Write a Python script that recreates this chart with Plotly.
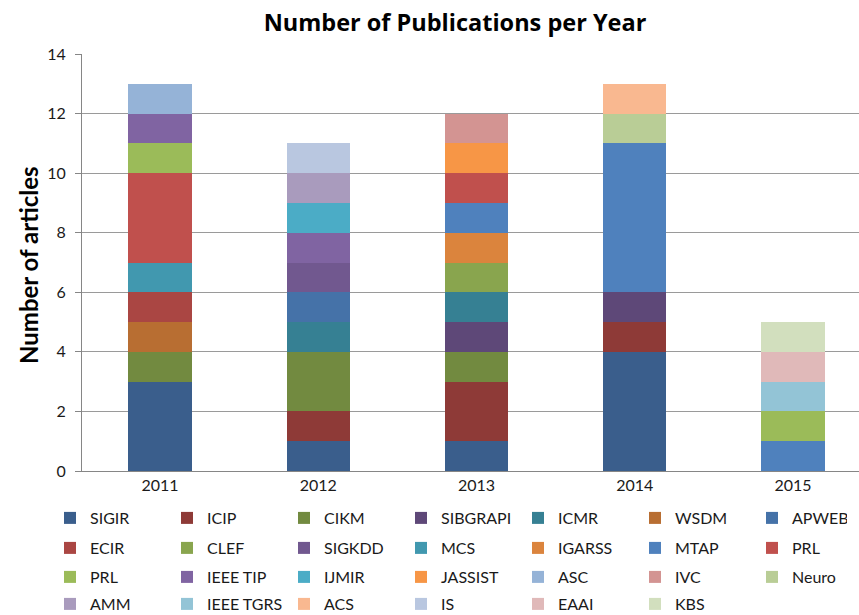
import plotly.graph_objects as go

years = ["2011", "2012", "2013", "2014", "2015"]

venues = ["SIGIR", "ICIP", "CIKM", "SIBGRAPI", "ICMR", "WSDM", "APWEB",
          "ECIR", "CLEF", "SIGKDD", "MCS", "IGARSS", "MTAP", "PRL",
          "PRL", "IEEE TIP", "IJMIR", "JASSIST", "ASC", "IVC", "Neuro",
          "AMM", "IEEE TGRS", "ACS", "IS", "EAAI", "KBS"]

SIGIR = [3, 1, 1, 4, 0]
ICIP = [0, 1, 2, 1, 0]
CIKM = [1, 2, 1, 0, 0]
SIBGRAPI = [0, 0, 1, 1, 0]
ICMR = [0, 1, 1, 0, 0]
WSDM = [1, 0, 0, 0, 0]
APWEB = [0, 1, 0, 0, 0]
ECIR = [1, 0, 0, 0, 0]
CLEF = [0, 0, 1, 0, 0]
SIGKDD = [0, 1, 0, 0, 0]
MCS = [1, 0, 0, 0, 0]
IGARSS = [0, 0, 1, 0, 0]
MTAP = [0, 0, 1, 5, 1]
PRL_a = [3, 0, 1, 0, 0]
PRL_b = [1, 0, 0, 0, 1]
IEEE_TIP = [1, 1, 0, 0, 0]
IJMIR = [0, 1, 0, 0, 0]
JASSIST = [0, 0, 1, 0, 0]
ASC = [1, 0, 0, 0, 0]
IVC = [0, 0, 1, 0, 0]
Neuro = [0, 0, 0, 1, 0]
AMM = [0, 1, 0, 0, 0]
IEEE_TGRS = [0, 0, 0, 0, 1]
ACS = [0, 0, 0, 1, 0]
IS = [0, 1, 0, 0, 0]
EAAI = [0, 0, 0, 0, 1]
KBS = [0, 0, 0, 0, 1]

series = [SIGIR, ICIP, CIKM, SIBGRAPI, ICMR, WSDM, APWEB,
          ECIR, CLEF, SIGKDD, MCS, IGARSS, MTAP, PRL_a,
          PRL_b, IEEE_TIP, IJMIR, JASSIST, ASC, IVC, Neuro,
          AMM, IEEE_TGRS, ACS, IS, EAAI, KBS]

colors = ["#3A5E8C", "#8E3A37", "#728A40", "#5E4878", "#368093", "#B86E32", "#4572A8",
          "#AA4643", "#89A54E", "#71588F", "#4198AF", "#DB843D", "#4F81BD", "#C0504D",
          "#9BBB59", "#8064A2", "#4BACC6", "#F79646", "#95B3D7", "#D39492", "#B9CD96",
          "#A99BBD", "#93C4D6", "#F9B890", "#B9C7E0", "#E0B9B9", "#D2DFBE"]

W, H = 859, 615
FONT = "Lato"

fig = go.Figure()
legend_names = ["legend", "legend2", "legend3", "legend4"]
for i, (name, vals, col) in enumerate(zip(venues, series, colors)):
    last_col = (i % 7) == 6
    fig.add_trace(go.Bar(
        x=years, y=vals, name=name, marker=dict(color=col, line=dict(width=0)),
        width=0.4, legend=legend_names[i // 7],
        legendwidth=50 if last_col else 72,
    ))

row_y = [518, 548, 577, 604]
leg_common = dict(orientation="h", traceorder="normal", xref="paper", yref="paper",
                  xanchor="left", yanchor="middle", entrywidth=72, entrywidthmode="pixels",
                  itemwidth=30, font=dict(family=FONT, size=16, color="#1a1a1a"),
                  bgcolor="rgba(0,0,0,0)")
legends = {}
for k, ln in enumerate(legend_names):
    legends[ln] = dict(leg_common, x=50 / W, y=(H - row_y[k]) / H)

fig.update_layout(
    width=W, height=H, barmode="stack",
    margin=dict(l=0, r=0, t=0, b=0, autoexpand=False),
    paper_bgcolor="white", plot_bgcolor="white",
    font=dict(family=FONT, size=16, color="#1a1a1a"),
    title=dict(text="<b>Number of Publications per Year</b>", x=455 / W, xref="paper",
               xanchor="center", y=1 - 23 / H, yref="container", yanchor="middle",
               font=dict(family="Open Sans", size=23.5, color="black")),
    xaxis=dict(type="category", domain=[82 / W, 1], range=[-0.493, 4.417],
               showline=True, linecolor="#868686", linewidth=1, ticks="",
               showgrid=False, automargin=False, tickfont=dict(size=16, color="#1a1a1a")),
    yaxis=dict(domain=[(H - 471) / H, (H - 54) / H], range=[0, 14], dtick=2,
               showline=True, linecolor="#868686", linewidth=1,
               ticks="outside", ticklen=6, tickcolor="#868686",
               showgrid=True, gridcolor="#9a9a9a", gridwidth=1, zeroline=False,
               automargin=False, ticklabelstandoff=6,
               tickfont=dict(size=16, color="#1a1a1a")),
    showlegend=True,
    **legends,
)

fig.add_annotation(text="<b>Number of articles</b>", textangle=-90, x=28 / W, y=(H - 265) / H,
                   xref="paper", yref="paper", xanchor="center", yanchor="middle",
                   showarrow=False,
                   font=dict(family=FONT, size=24, color="black"))

fig.write_html("out.html")
